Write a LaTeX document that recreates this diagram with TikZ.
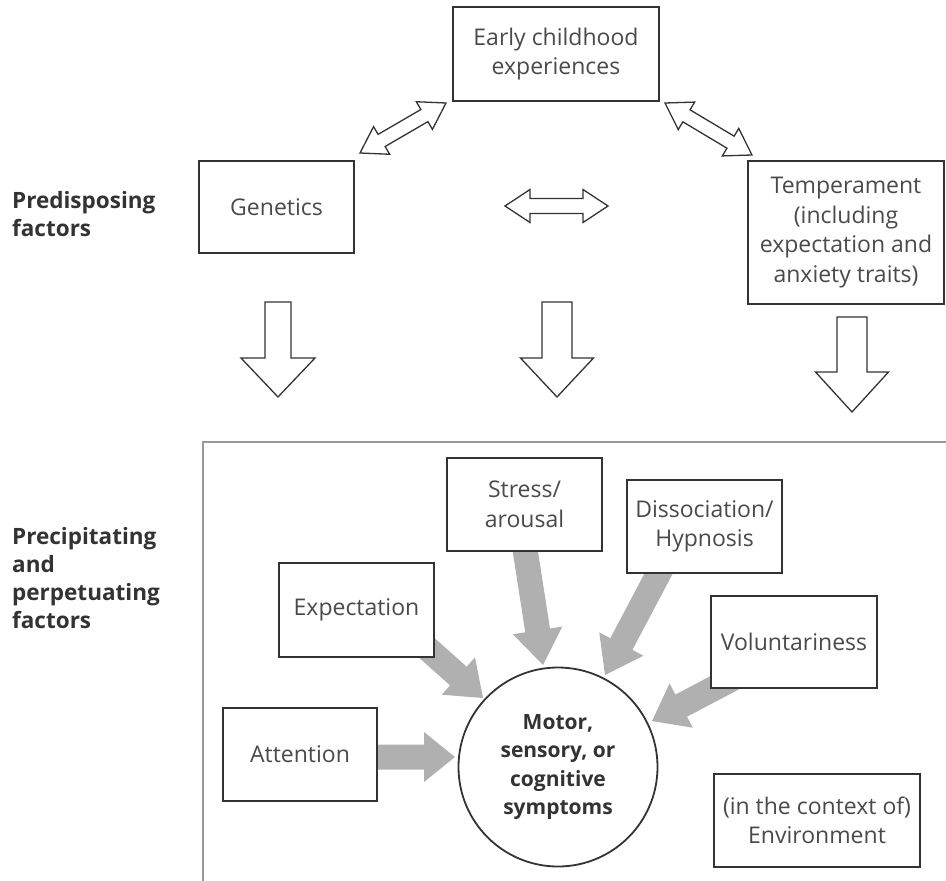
\documentclass[tikz,border=0pt]{standalone}
\usepackage{fontspec}
\setmainfont{Open Sans}
\usetikzlibrary{calc}
\definecolor{boxline}{HTML}{333333}
\definecolor{txt}{HTML}{4A4A4A}
\definecolor{lbl}{HTML}{333333}
\definecolor{garrow}{HTML}{B0B0B0}
\definecolor{framec}{HTML}{999999}
\newcommand\mysinglearrow[6]{%
  \coordinate (sa1) at ($(#3)!#6!(#2)$);
  \path[#1] ($(#2)!#4!90:(#3)$) -- ($(sa1)!#4!90:(#3)$) -- ($(sa1)!#5!90:(#3)$) -- (#3)
    -- ($(sa1)!#5!-90:(#3)$) -- ($(sa1)!#4!-90:(#3)$) -- ($(#2)!#4!-90:(#3)$) -- cycle;}
\newcommand\mydoublearrow[6]{%
  \coordinate (da1) at ($(#2)!#6!(#3)$);
  \coordinate (da2) at ($(#3)!#6!(#2)$);
  \path[#1] (#2) -- ($(da1)!#5!90:(#3)$) -- ($(da1)!#4!90:(#3)$) -- ($(da2)!#4!90:(#3)$)
    -- ($(da2)!#5!90:(#3)$) -- (#3) -- ($(da2)!#5!-90:(#3)$) -- ($(da2)!#4!-90:(#3)$)
    -- ($(da1)!#4!-90:(#3)$) -- ($(da1)!#5!-90:(#3)$) -- cycle;}
\tikzset{
  box/.style={draw=boxline, line width=1.8pt, fill=white, text=txt, align=center,
    font=\fontsize{23}{29.5}\selectfont, inner sep=0pt},
  lab/.style={text=lbl, align=left, anchor=north west, inner sep=0pt,
    font=\fontsize{22.5}{28}\selectfont\bfseries},
  hollow/.style={draw=boxline, line width=1.3pt, fill=white, line join=miter},
  grayarr/.style={fill=garrow, draw=none},
}
\begin{document}
\begin{tikzpicture}[x=1pt, y=-1pt]
\useasboundingbox (0,0) rectangle (946,881);
% frame
\draw[framec, line width=2.5pt] (946,442) -- (203,442) -- (203,881);
% labels
\node[lab] (pre) at (12,191) {Predisposing\\factors};
\node[lab] (prec) at (12,527) {Precipitating\\and\\perpetuating\\factors};
% top boxes
\node[box, minimum width=206pt, minimum height=94pt] (early) at (556,54) {Early childhood\\experiences};
\node[box, minimum width=155pt, minimum height=92pt] (gen) at (276.5,207) {Genetics};
\node[box, minimum width=196pt, minimum height=143pt] (temp) at (846,232.5) {Temperament\\(including\\expectation and\\anxiety traits)};
% double arrows
\coordinate (d1a) at (360,153); \coordinate (d1b) at (446,103);
\coordinate (d2a) at (665,103); \coordinate (d2b) at (752,155);
\coordinate (d3a) at (505,206); \coordinate (d3b) at (608,206);
\mydoublearrow{hollow}{d1a}{d1b}{7pt}{16pt}{25pt}
\mydoublearrow{hollow}{d2a}{d2b}{7pt}{16pt}{25pt}
\mydoublearrow{hollow}{d3a}{d3b}{7.5pt}{16.5pt}{25pt}
% down arrows
\coordinate (p1a) at (278,302); \coordinate (p1b) at (278,397);
\coordinate (p2a) at (557,302); \coordinate (p2b) at (557,397);
\coordinate (p3a) at (852,317); \coordinate (p3b) at (852,412);
\mysinglearrow{hollow}{p1a}{p1b}{13pt}{37pt}{39pt}
\mysinglearrow{hollow}{p2a}{p2b}{15pt}{36.5pt}{39pt}
\mysinglearrow{hollow}{p3a}{p3b}{15pt}{36.5pt}{40pt}
% gray arrows (drawn below boxes)
\coordinate (g1a) at (370,757); \coordinate (g1b) at (455,757);
\coordinate (g2a) at (400,624); \coordinate (g2b) at (483,698);
\coordinate (g3a) at (522,530); \coordinate (g3b) at (543,665);
\coordinate (g4a) at (670,552); \coordinate (g4b) at (605,675);
\coordinate (g5a) at (745,672); \coordinate (g5b) at (652,721);
\mysinglearrow{grayarr}{g1a}{g1b}{12.5pt}{25pt}{31pt}
\mysinglearrow{grayarr}{g2a}{g2b}{12.5pt}{25pt}{33pt}
\mysinglearrow{grayarr}{g3a}{g3b}{12.5pt}{25pt}{35pt}
\mysinglearrow{grayarr}{g4a}{g4b}{12.5pt}{25pt}{35pt}
\mysinglearrow{grayarr}{g5a}{g5b}{12.5pt}{25pt}{33pt}
% bottom boxes
\node[box, minimum width=155pt, minimum height=93pt] (stress) at (524.5,504.5) {Stress/\\arousal};
\node[box, minimum width=155pt, minimum height=93pt] (diss) at (704.5,526.5) {Dissociation/\\Hypnosis};
\node[box, minimum width=155pt, minimum height=94pt] (expect) at (356.5,610) {Expectation};
\node[box, minimum width=166pt, minimum height=92pt] (vol) at (794,642) {Voluntariness};
\node[box, minimum width=154pt, minimum height=93pt] (att) at (300,754.5) {Attention};
\node[box, minimum width=206pt, minimum height=93pt] (env) at (817,820.5) {(in the context of)\\Environment};
\node[box, circle, minimum size=199pt, text=lbl, font=\fontsize{21}{28.5}\selectfont\bfseries] (sym) at (558,767) {Motor,\\sensory, or\\cognitive\\symptoms};
\end{tikzpicture}
\end{document}
